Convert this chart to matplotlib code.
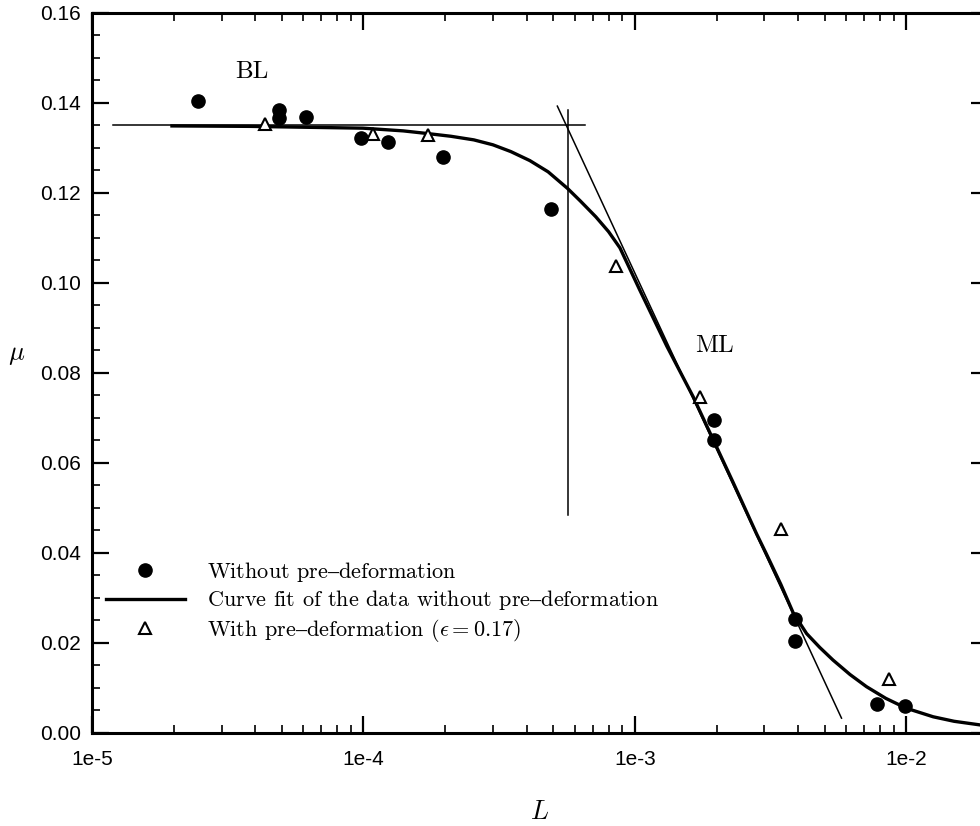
import matplotlib
matplotlib.use("Agg")
import matplotlib.pyplot as plt
from matplotlib.ticker import LogLocator, MultipleLocator, NullFormatter

# values
L_without = [2.45e-5, 4.9e-5, 4.9e-5, 6.15e-5, 9.8e-5, 1.23e-4, 1.96e-4,
             4.9e-4, 1.95e-3, 1.95e-3, 3.9e-3, 3.9e-3, 7.8e-3, 9.9e-3]
mu_without = [0.1404, 0.1384, 0.1366, 0.1369, 0.1322, 0.1313, 0.1281,
              0.1164, 0.0696, 0.0650, 0.0253, 0.0204, 0.0064, 0.0061]

L_with = [4.35e-5, 1.08e-4, 1.73e-4, 8.55e-4, 1.73e-3, 3.45e-3, 8.65e-3]
mu_with = [0.1353, 0.1331, 0.1329, 0.1038, 0.0747, 0.0453, 0.0120]

# fitted curve
L_fit = [1.97e-5, 3.82e-5, 9.96e-5, 1.4e-4, 1.726e-4, 2.1e-4, 2.55e-4,
         3.0e-4, 3.49e-4, 4.1e-4, 4.79e-4, 5.65e-4, 6.3e-4, 7.18e-4,
         8.0e-4, 8.81e-4, 1.043e-3, 1.31e-3, 1.64e-3, 1.97e-3, 2.30e-3,
         2.81e-3, 3.05e-3, 3.45e-3, 3.83e-3, 4.29e-3, 4.8e-3, 5.37e-3,
         6.2e-3, 7.13e-3, 8.4e-3, 1.0e-2, 1.256e-2, 1.5e-2, 1.866e-2]
mu_fit = [0.1349, 0.1348, 0.1344, 0.1338, 0.1332, 0.1326, 0.1318,
          0.1307, 0.1292, 0.1272, 0.1247, 0.1210, 0.1182, 0.1147,
          0.1114, 0.1078, 0.0984, 0.0860, 0.0747, 0.0644, 0.0557,
          0.0442, 0.0398, 0.0330, 0.0267, 0.0221, 0.0190, 0.0162,
          0.0130, 0.0103, 0.0077, 0.0055, 0.0036, 0.0026, 0.0018]

# construction lines (plateau, tangent, crossing)
L_plateau = [1.19e-5, 6.55e-4]
mu_plateau = [0.135, 0.135]
L_tangent = [5.18e-4, 5.77e-3]
mu_tangent = [0.1393, 0.0033]
L_cross = [5.65e-4, 5.65e-4]
mu_cross = [0.1384, 0.0484]

x_ticks = [1e-5, 1e-4, 1e-3, 1e-2]
x_tick_labels = ["1e-5", "1e-4", "1e-3", "1e-2"]
y_ticks = [0.00, 0.02, 0.04, 0.06, 0.08, 0.10, 0.12, 0.14, 0.16]
y_tick_labels = ["0.00", "0.02", "0.04", "0.06", "0.08", "0.10", "0.12", "0.14", "0.16"]

legend_labels = [
    r"Without pre$\mathrm{–}$deformation",
    r"Curve fit of the data without pre$\mathrm{–}$deformation",
    r"With pre$\mathrm{–}$deformation ($\epsilon = 0.17$)",
]

plt.rcParams["font.family"] = ["cmr10", "DejaVu Serif"]
plt.rcParams["mathtext.fontset"] = "cm"
plt.rcParams["axes.formatter.use_mathtext"] = True

fig = plt.figure(figsize=(9.8, 8.26), dpi=100)
ax = fig.add_axes([0.0939, 0.1126, 0.9143, 0.8717])

ax.plot(L_plateau, mu_plateau, color="black", lw=1.1)
ax.plot(L_tangent, mu_tangent, color="black", lw=1.1)
ax.plot(L_cross, mu_cross, color="black", lw=1.1)
fit_line, = ax.plot(L_fit, mu_fit, color="black", lw=2.4, zorder=3,
                    solid_joinstyle="round")
pts_without, = ax.plot(L_without, mu_without, "o", color="black", ms=9.5, zorder=4)
pts_with, = ax.plot(L_with, mu_with, "^", mfc="white", mec="black", mew=1.5,
                    ms=8.5, zorder=4)

ax.set_xscale("log")
ax.set_xlim(1e-5, 2e-2)
ax.set_ylim(0.0, 0.16)

ax.set_xticks(x_ticks)
ax.set_xticklabels(x_tick_labels)
ax.xaxis.set_minor_locator(LogLocator(base=10, subs=range(2, 10)))
ax.xaxis.set_minor_formatter(NullFormatter())
ax.set_yticks(y_ticks)
ax.set_yticklabels(y_tick_labels)
ax.yaxis.set_minor_locator(MultipleLocator(0.005))

ax.tick_params(which="both", direction="in", top=True, right=True,
               labelsize=15, labelfontfamily="Liberation Sans")
ax.tick_params(which="major", length=12, width=1.6)
ax.tick_params(which="minor", length=6, width=1.2)
ax.tick_params(axis="y", pad=8)
ax.tick_params(axis="x", pad=12)
for sp in ax.spines.values():
    sp.set_linewidth(2.2)

ax.text(3.88e-5, 0.1469, "BL", fontsize=18, ha="center", va="center")
ax.text(1.97e-3, 0.0860, "ML", fontsize=18, ha="center", va="center")

fig.text(0.017, 0.570, r"$\mu$", fontsize=19, ha="center", va="center")
fig.text(0.550, 0.017, r"$L$", fontsize=19, ha="center", va="center")

ax.legend([pts_without, fit_line, pts_with], legend_labels,
          loc="center left", bbox_to_anchor=(106 / 980, 1 - 602 / 826),
          bbox_transform=fig.transFigure, frameon=False, fontsize=16,
          borderpad=0, borderaxespad=0, handlelength=3.55,
          handletextpad=1.0, labelspacing=0.2)

fig.savefig("out.png", dpi=100, facecolor="white")
